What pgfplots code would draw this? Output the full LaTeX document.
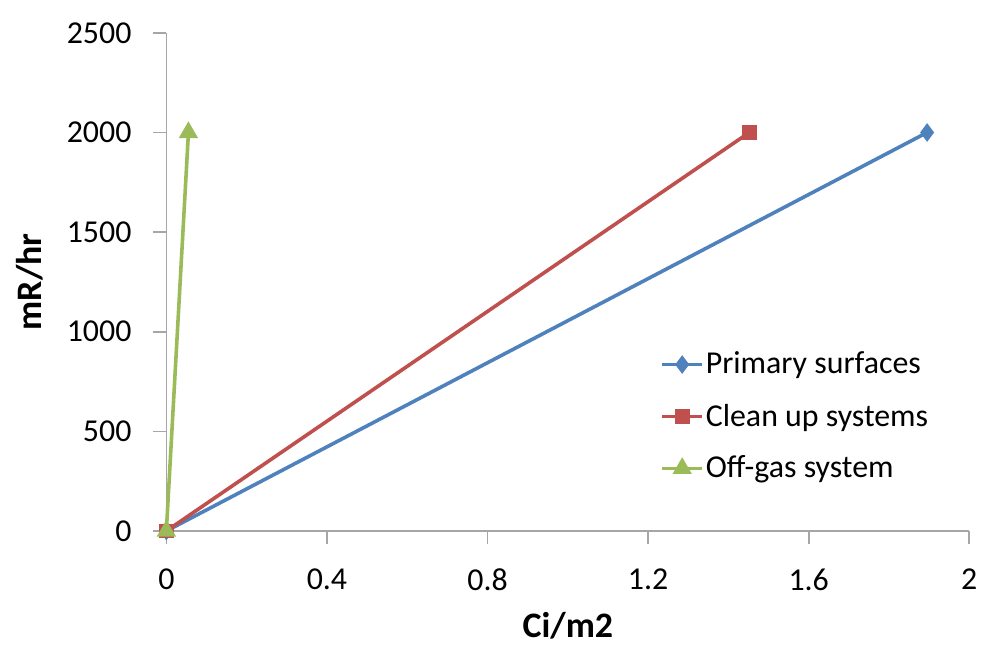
\documentclass[border=0pt]{standalone}
\usepackage{pgfplots}
\pgfplotsset{compat=1.18}
\usepackage{fontspec}
\setmainfont{Carlito}
\definecolor{cblue}{HTML}{4F81BD}
\definecolor{cred}{HTML}{C0504D}
\definecolor{cgreen}{HTML}{9BBB59}
\definecolor{axgray}{HTML}{A6A6A6}
\begin{document}
\begin{tikzpicture}
\path (-83.5pt,-56.5pt) rectangle (408.5pt,266.5pt);
\begin{axis}[
  scale only axis,
  width=403pt, height=250pt,
  xmin=0, xmax=2, ymin=0, ymax=2500,
  xtick={0,0.4,0.8,1.2,1.6,2},
  xticklabels={0,0.4,0.8,1.2,1.6,2},
  ytick={0,500,1000,1500,2000,2500},
  yticklabels={0,500,1000,1500,2000,2500},
  axis x line*=bottom, axis y line*=left,
  axis line style={axgray, line width=0.8pt},
  tick style={axgray, line width=0.8pt},
  tick align=outside,
  major tick length=6.5pt,
  /pgf/number format/assume math mode=true,
  ticklabel style={font=\fontsize{16}{19}\selectfont},
  xticklabel shift=9pt,
  yticklabel shift=7.5pt,
  xlabel={\textbf{Ci/m2}},
  ylabel={\textbf{mR/hr}},
  label style={font=\fontsize{18}{21}\selectfont},
  xlabel style={at={(rel axis cs:0.5,-0.19)}, anchor=center},
  ylabel style={at={(rel axis cs:-0.17,0.5)}, anchor=center},
  clip=false,
  legend style={draw=none, fill=none, at={(rel axis cs:0.615,0.364)}, anchor=north west,
    font=\fontsize{16}{19}\selectfont, row sep=11.5pt, inner sep=0pt,
    nodes={inner sep=1pt}},
  legend cell align=left,
  legend image code/.code={
    \draw[#1, mark repeat=2, mark phase=2] plot coordinates {(0cm,0cm) (0.35cm,0cm) (0.7cm,0cm)};
  },
]
\addplot[cblue, line width=1.8pt, mark=diamond*, mark size=3.2pt] coordinates {(0,0) (1.895,2000)};
\addlegendentry{Primary surfaces}
\addplot[cred, line width=1.8pt, mark=square*, mark size=2.8pt] coordinates {(0,0) (1.452,2000)};
\addlegendentry{Clean up systems}
\addplot[cgreen, line width=1.8pt, mark=triangle*, mark size=3.8pt] coordinates {(0,0) (0.055,2000)};
\addlegendentry{Off-gas system}
\end{axis}
\end{tikzpicture}
\end{document}
